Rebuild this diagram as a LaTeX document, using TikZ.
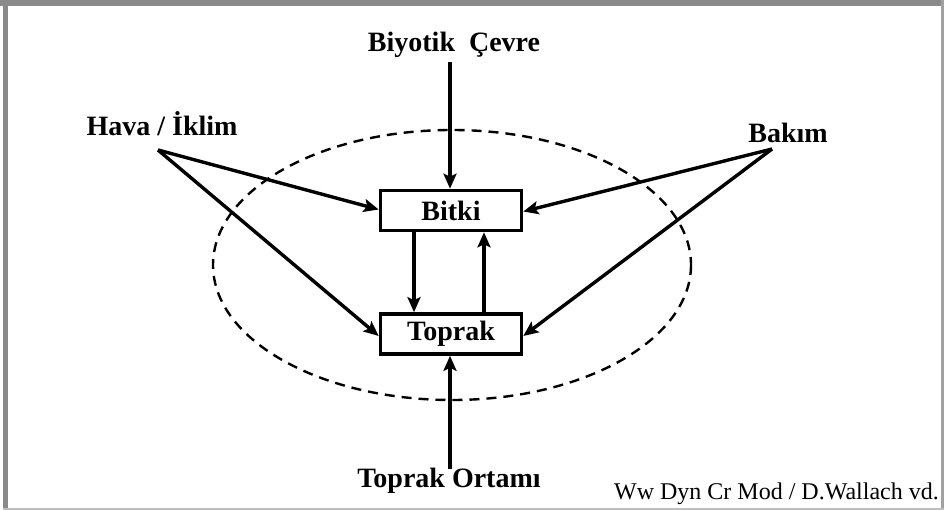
\documentclass[tikz,border=0pt]{standalone}
\usepackage{fontspec}
\setmainfont{Liberation Serif}
\usetikzlibrary{arrows.meta}
\definecolor{framegray}{HTML}{8A8A8A}
\definecolor{framelight}{HTML}{BDBDBD}
\begin{document}
\begin{tikzpicture}[x=1pt,y=-1pt,
  lbl/.style={font=\fontsize{28}{32}\selectfont\bfseries, inner sep=0pt},
  blk/.style={draw, line width=3.6pt, minimum width=141pt, minimum height=40pt,
              inner sep=0pt, font=\fontsize{28}{32}\selectfont\bfseries},
  arr/.style={line width=3.4pt, -{Stealth[length=15pt,width=13pt,inset=3pt]}}]
  % page and outer frame
  \useasboundingbox (0,0) rectangle (944,510);
  \fill[white] (0,0) rectangle (944,510);
  \fill[framegray] (0,0) rectangle (944,6);
  \fill[framegray] (3,0) rectangle (7.5,510);
  \fill[framegray!80] (941,0) rectangle (943.5,510);
  \fill[framelight] (3,507.5) rectangle (943.5,510);

  % system boundary
  \draw[line width=2.4pt, dash pattern=on 10pt off 7pt] (452,265) ellipse [x radius=239, y radius=135];

  % main components
  \node[blk] (bitki) at (451,210.5) {Bitki};
  \node[blk] (toprak) at (451,334) {Toprak};

  % external factors
  \node[lbl] (biyotik) at (454,45) {Biyotik\ \ Çevre};
  \node[lbl] (hava) at (162,124) {Hava / İklim};
  \node[lbl] (bakim) at (788,133) {Bakım};
  \node[lbl] (ortam) at (449,481) {Toprak Ortamı};
  \node[font=\fontsize{24}{28}\selectfont, anchor=base east, inner sep=0pt] (kaynak) at (939,499) {Ww Dyn Cr Mod / D.Wallach vd.};

  \coordinate (havaP) at (158,150);
  \coordinate (bakimP) at (772,149);
  \coordinate (biyP) at (450,62);
  \coordinate (ortP) at (450,469);

  % influences
  \draw[arr] (biyP) -- (bitki.north -| biyP);
  \draw[arr] (ortP) -- (toprak.south -| ortP);
  \draw[arr] (havaP) -- ([yshift=1pt]bitki.west);
  \draw[arr] (havaP) -- ([yshift=-2pt]toprak.west);
  \draw[arr] (bakimP) -- ([yshift=-1pt]bitki.east);
  \draw[arr] (bakimP) -- ([yshift=-2pt]toprak.east);

  % exchange between plant and soil
  \draw[arr] ([xshift=-37pt]bitki.south) -- ([xshift=-37pt]toprak.north);
  \draw[arr] ([xshift=33pt]toprak.north) -- ([xshift=33pt]bitki.south);
\end{tikzpicture}
\end{document}
